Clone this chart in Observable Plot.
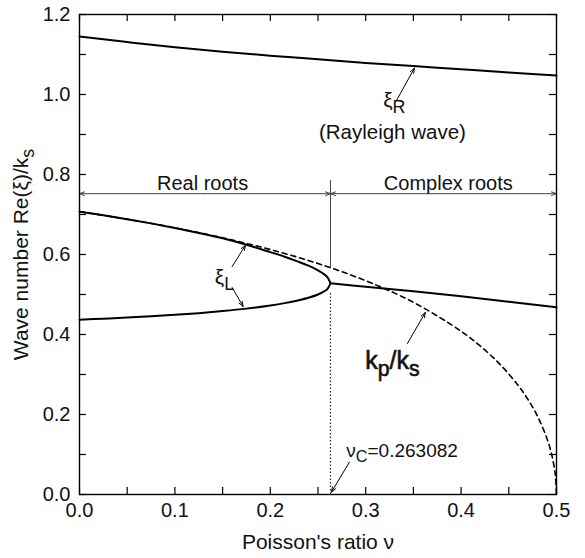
<!DOCTYPE html>
<html><head><meta charset="utf-8">
<script src="https://cdn.jsdelivr.net/npm/d3@7"></script>
<script src="https://cdn.jsdelivr.net/npm/@observablehq/plot@0.6"></script>
<style>html,body{margin:0;padding:0;background:#fff;} svg{display:block}</style>
</head><body><div id="chart"></div>
<script>
// ---------- data ----------
const nuCrit = 0.263082;

// xi_L branches (real roots), Poisson's ratio nu
const nuBranch = [0, 0.025, 0.05, 0.075, 0.1, 0.125, 0.15, 0.175, 0.2, 0.215, 0.23, 0.24, 0.25, 0.255, 0.26, 0.263082];
const xiLUpper = [0.7071, 0.6979, 0.6882, 0.6778, 0.6664, 0.6540, 0.6405, 0.6245, 0.6060, 0.5945, 0.5815, 0.5720, 0.5605, 0.5530, 0.5430, 0.5281];
const xiLLower = [0.4371, 0.4395, 0.4423, 0.4454, 0.4491, 0.4534, 0.4586, 0.4647, 0.4725, 0.4784, 0.4858, 0.4919, 0.5001, 0.5058, 0.5140, 0.5281];

// real part of complex roots
const nuComplex = [0.263082, 0.3, 0.35, 0.4, 0.45, 0.5];
const reXiComplex = [0.5281, 0.5195, 0.5080, 0.4955, 0.4820, 0.4680];

// kp/ks (dashed)
const nuP = [0, 0.05, 0.1, 0.15, 0.2, 0.25, 0.3, 0.35, 0.4, 0.42, 0.44, 0.46, 0.47, 0.48, 0.49, 0.495, 0.498, 0.499, 0.5];
const kpks = [0.7071, 0.6882, 0.6667, 0.6417, 0.6124, 0.5774, 0.5345, 0.4804, 0.4082, 0.3714, 0.3273, 0.2722, 0.2379, 0.1961, 0.1400, 0.0995, 0.0631, 0.0447, 0];

// Rayleigh wave xi_R
const nuR = [0, 0.05, 0.1, 0.15, 0.2, 0.25, 0.3, 0.35, 0.4, 0.45, 0.5];
const xiR = [1.145, 1.131, 1.118, 1.107, 1.097, 1.088, 1.079, 1.071, 1.063, 1.055, 1.0475];

// ticks
const xTicks = [0, 0.05, 0.1, 0.15, 0.2, 0.25, 0.3, 0.35, 0.4, 0.45, 0.5];
const xTickLabels = [0, 0.1, 0.2, 0.3, 0.4, 0.5];
const yTicks = [0, 0.1, 0.2, 0.3, 0.4, 0.5, 0.6, 0.7, 0.8, 0.9, 1.0, 1.1, 1.2];
const yTickLabels = [0, 0.2, 0.4, 0.6, 0.8, 1.0, 1.2];

const xLabel = "Poisson's ratio ν";
const yLabel = "Wave number Re(ξ)/k_s";

// ---------- annotations (positions in data units) ----------
const notesMiddle = [
  {x: 0.330, y: 0.985, t: "ξ_R", size: 21},
  {x: 0.328, y: 0.905, t: "(Rayleigh wave)", size: 20.5},
  {x: 0.129, y: 0.7775, t: "Real roots", size: 20},
  {x: 0.3866, y: 0.7775, t: "Complex roots", size: 20},
  {x: 0.152, y: 0.5425, t: "ξ_L", size: 21}
];
const notesBig = [
  {x: 0.328, y: 0.335, t: "k_p/k_s", size: 25}
];
const notesStart = [
  {x: 0.2797, y: 0.110, t: "ν_C=0.263082", size: 19}
];
const pointers = [
  {x1: 0.3323, y1: 0.985, x2: 0.3511, y2: 1.066},
  {x1: 0.160, y1: 0.570, x2: 0.174, y2: 0.623},
  {x1: 0.160, y1: 0.5175, x2: 0.1715, y2: 0.470},
  {x1: 0.3437, y1: 0.3775, x2: 0.3625, y2: 0.455},
  {x1: 0.2829, y1: 0.0808, x2: 0.2641, y2: 0.006}
];
const spanY = 0.752;
const spans = [
  {x1: 0.13, x2: 0},
  {x1: 0.13, x2: nuCrit},
  {x1: 0.38, x2: nuCrit},
  {x1: 0.38, x2: 0.5}
];

// ---------- layout ----------
const W = 585, H = 558, mL = 79, mR = 29, mT = 14, mB = 64;
const plotH = H - mT - mB, plotW = W - mL - mR, tickLen = 7;

const pts = (xs, ys) => xs.map((x, i) => ({x, y: ys[i]}));
const branch = [...pts(nuBranch, xiLUpper), ...pts(nuBranch, xiLLower).reverse()];

const chart = Plot.plot({
  width: W, height: H,
  marginLeft: mL, marginRight: mR, marginTop: mT, marginBottom: mB,
  x: {domain: [0, 0.5], axis: null},
  y: {domain: [0, 1.2], axis: null},
  style: {fontFamily: "'Liberation Sans', Arial, Helvetica, sans-serif", fontSize: "20px", background: "#fff", color: "#000", overflow: "visible"},
  marks: [
    // ticks (inward, all four sides)
    Plot.ruleX(xTicks, {x: d => d, insetTop: plotH - tickLen, stroke: "#000", strokeWidth: 1.2}),
    Plot.ruleX(xTicks, {x: d => d, insetBottom: plotH - tickLen, stroke: "#000", strokeWidth: 1.2}),
    Plot.ruleY(yTicks, {y: d => d, insetRight: plotW - tickLen, stroke: "#000", strokeWidth: 1.2}),
    Plot.ruleY(yTicks, {y: d => d, insetLeft: plotW - tickLen, stroke: "#000", strokeWidth: 1.2}),
    // tick labels
    Plot.text(xTickLabels, {x: d => d, frameAnchor: "bottom", lineAnchor: "top", dy: 8, text: d => d.toFixed(1), fontSize: 20, fill: "#111"}),
    Plot.text(yTickLabels, {y: d => d, frameAnchor: "left", textAnchor: "end", dx: -9, text: d => d.toFixed(1), fontSize: 20, fill: "#111"}),
    // axis labels
    Plot.text([{t: xLabel, x: 0.25}], {x: "x", text: "t", frameAnchor: "bottom", dy: 54, fontSize: 21, fill: "#111"}),
    Plot.text([{t: yLabel, y: 0.6}], {y: "y", text: "t", frameAnchor: "left", textAnchor: "middle", dx: -58, rotate: -90, fontSize: 21, fill: "#111"}),
    // vertical markers at nu_c
    Plot.ruleX([nuCrit], {x: d => d, y1: 0.567, y2: 0.785, stroke: "#444", strokeWidth: 1}),
    Plot.ruleX([nuCrit], {x: d => d, y1: 0, y2: 0.505, stroke: "#222", strokeWidth: 1.2, strokeDasharray: "1.5,2"}),
    // horizontal span arrows
    Plot.arrow(spans, {x1: "x1", x2: "x2", y1: spanY, y2: spanY, stroke: "#444", strokeWidth: 1, headLength: 8, headAngle: 40}),
    // curves
    Plot.line(pts(nuP, kpks), {x: "x", y: "y", curve: "catmull-rom", stroke: "#000", strokeWidth: 1.6, strokeDasharray: "5,4"}),
    Plot.line(branch, {x: "x", y: "y", curve: "catmull-rom", stroke: "#000", strokeWidth: 2}),
    Plot.line(pts(nuComplex, reXiComplex), {x: "x", y: "y", curve: "catmull-rom", stroke: "#000", strokeWidth: 2}),
    Plot.line(pts(nuR, xiR), {x: "x", y: "y", curve: "catmull-rom", stroke: "#000", strokeWidth: 2}),
    // pointer arrows
    Plot.arrow(pointers, {x1: "x1", y1: "y1", x2: "x2", y2: "y2", stroke: "#000", strokeWidth: 1, headLength: 8, headAngle: 40}),
    // annotations
    Plot.text(notesMiddle, {x: "x", y: "y", text: "t", fontSize: d => d.size, textAnchor: "middle", fill: "#111"}),
    Plot.text(notesBig, {x: "x", y: "y", text: "t", fontSize: d => d.size, textAnchor: "middle", fill: "#111", stroke: "#111", strokeWidth: 0.6}),
    Plot.text(notesStart, {x: "x", y: "y", text: "t", fontSize: d => d.size, textAnchor: "start", fill: "#111"}),
    Plot.frame({stroke: "#000", strokeWidth: 1.4})
  ]
});

// subscripts: "_X" -> subscript tspan
d3.select(chart).selectAll("text").each(function() {
  const el = this;
  const s = el.textContent;
  if (!s.includes("_")) return;
  const fs = parseFloat(el.getAttribute("font-size")) || parseFloat(el.parentNode.getAttribute("font-size")) || 20;
  const parts = s.split(/_(\w)/);
  el.textContent = "";
  let lowered = false;
  parts.forEach((p, i) => {
    if (p === "") return;
    const ts = d3.select(el).append("tspan").text(p);
    if (i % 2 === 1) {
      ts.attr("font-size", (fs * 0.85) + "px").attr("dy", (fs * 0.28) + "px");
      lowered = true;
    } else if (lowered) {
      ts.attr("dy", (-fs * 0.28) + "px");
      lowered = false;
    }
  });
});

document.getElementById("chart").appendChild(chart);
</script>
</body></html>
